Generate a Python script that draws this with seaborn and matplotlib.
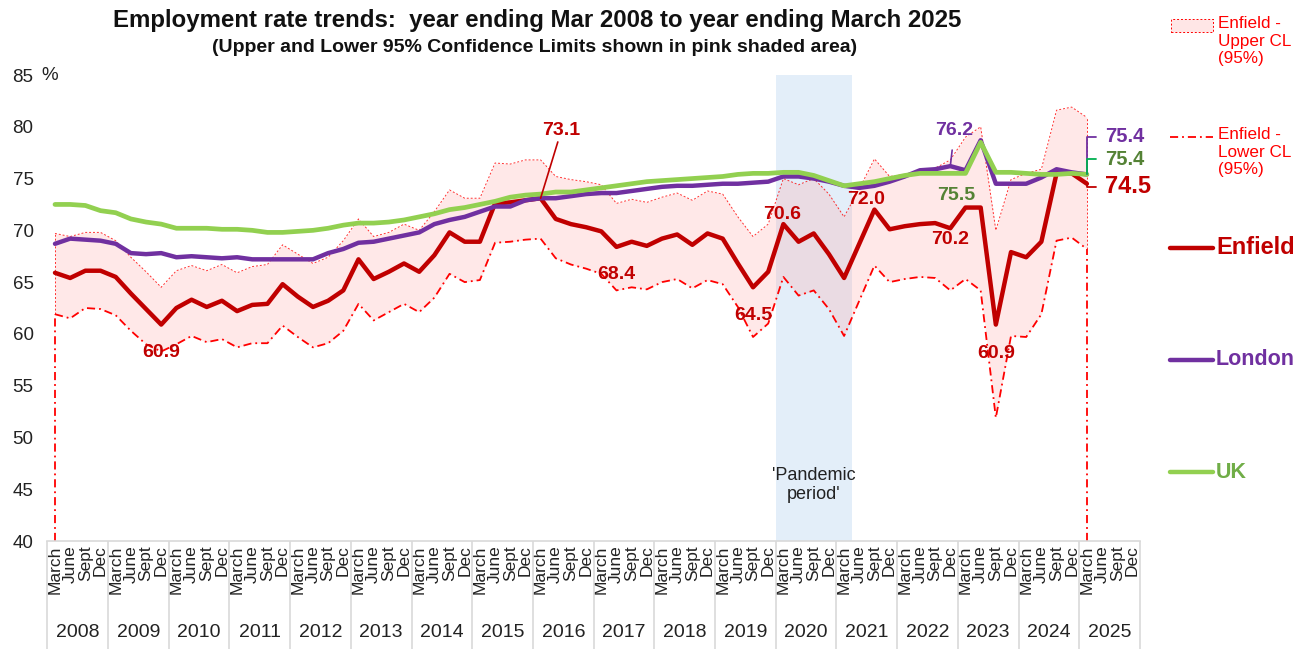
import matplotlib
matplotlib.use("Agg")
import matplotlib.pyplot as plt
from matplotlib.lines import Line2D
from matplotlib.patches import Rectangle
import seaborn as sns
import pandas as pd

# quarterly data, year ending March 2008 .. year ending March 2025
years = list(range(2008, 2026))
months = ["March", "June", "Sept", "Dec"]

enfield = [65.9, 65.4, 66.1, 66.1, 65.5, 63.9, 62.4, 60.9, 62.5, 63.3, 62.6, 63.2,
           62.2, 62.8, 62.9, 64.8, 63.6, 62.6, 63.2, 64.2, 67.2, 65.3, 66.0, 66.8,
           66.0, 67.6, 69.8, 68.9, 68.9, 72.6, 72.7, 72.9, 73.1, 71.1, 70.6, 70.3,
           69.9, 68.4, 68.9, 68.5, 69.2, 69.6, 68.6, 69.7, 69.2, 66.8, 64.5, 66.0,
           70.6, 68.9, 69.7, 67.7, 65.4, 68.7, 72.0, 70.1, 70.4, 70.6, 70.7, 70.2,
           72.2, 72.2, 60.9, 67.9, 67.4, 68.9, 75.5, 75.5, 74.5]
upper_cl = [69.7, 69.4, 69.8, 69.8, 69.0, 67.4, 66.0, 64.5, 66.1, 66.6, 66.1, 66.7,
            65.9, 66.5, 66.7, 68.6, 67.7, 66.8, 67.4, 69.0, 71.1, 69.4, 69.8, 70.6,
            70.0, 71.8, 73.9, 73.1, 73.1, 76.5, 76.4, 76.8, 76.8, 75.2, 74.9, 74.7,
            74.4, 72.6, 73.0, 72.7, 73.2, 73.6, 72.9, 73.8, 73.5, 71.3, 69.4, 70.6,
            75.0, 74.4, 75.0, 73.5, 71.3, 74.0, 76.9, 75.2, 75.4, 75.7, 76.0, 76.8,
            79.0, 80.0, 70.0, 74.9, 75.5, 75.9, 81.6, 81.9, 80.9]
lower_cl = [61.9, 61.5, 62.5, 62.4, 61.8, 60.3, 59.0, 58.3, 59.0, 59.8, 59.2, 59.5,
            58.7, 59.1, 59.1, 60.8, 59.7, 58.7, 59.1, 60.3, 62.9, 61.3, 62.1, 62.9,
            62.1, 63.5, 65.8, 65.0, 65.2, 68.8, 68.9, 69.1, 69.2, 67.3, 66.7, 66.3,
            65.8, 64.2, 64.5, 64.3, 65.0, 65.3, 64.4, 65.2, 64.8, 62.6, 59.7, 61.0,
            65.5, 63.7, 64.2, 62.4, 59.8, 63.2, 66.6, 65.0, 65.3, 65.5, 65.4, 64.2,
            65.3, 64.2, 51.9, 59.8, 59.7, 61.9, 69.0, 69.3, 68.2]
london = [68.7, 69.2, 69.1, 69.0, 68.7, 67.8, 67.7, 67.8, 67.4, 67.5, 67.4, 67.3,
          67.4, 67.2, 67.2, 67.2, 67.2, 67.2, 67.8, 68.2, 68.8, 68.9, 69.2, 69.5,
          69.8, 70.6, 71.0, 71.3, 71.8, 72.3, 72.3, 72.9, 73.1, 73.1, 73.3, 73.5,
          73.6, 73.6, 73.8, 74.0, 74.2, 74.3, 74.3, 74.4, 74.5, 74.5, 74.6, 74.7,
          75.2, 75.2, 75.0, 74.7, 74.3, 74.1, 74.3, 74.7, 75.2, 75.8, 75.9, 76.2,
          75.8, 78.7, 74.5, 74.5, 74.5, 75.1, 75.9, 75.6, 75.4]
uk = [72.5, 72.5, 72.4, 71.9, 71.7, 71.1, 70.8, 70.6, 70.2, 70.2, 70.2, 70.1,
      70.1, 70.0, 69.8, 69.8, 69.9, 70.0, 70.2, 70.5, 70.7, 70.7, 70.8, 71.0,
      71.3, 71.6, 72.0, 72.2, 72.5, 72.8, 73.2, 73.4, 73.5, 73.7, 73.7, 73.9,
      74.1, 74.3, 74.5, 74.7, 74.8, 74.9, 75.0, 75.1, 75.2, 75.4, 75.5, 75.5,
      75.6, 75.6, 75.3, 74.8, 74.3, 74.5, 74.7, 75.0, 75.3, 75.5, 75.5, 75.5,
      75.5, 78.5, 75.6, 75.6, 75.5, 75.4, 75.4, 75.5, 75.4]

# points that carry a data label
enfield_labels = [7, 32, 37, 46, 48, 54, 59, 62]
pandemic = (47.5, 52.5)

RED = "#C00000"
PURPLE = "#7030A0"
GREEN = "#92D050"
CL_RED = "#FF0000"

sns.set_style("white")
plt.rcParams["font.family"] = ["Liberation Sans", "DejaVu Sans"]

W, H = 1297, 649
def fx(px):
    return px / W
def fy(py):
    return 1 - py / H

n = len(enfield)
df = pd.DataFrame({"q": range(n), "Enfield": enfield, "London": london, "UK": uk,
                   "upper": upper_cl, "lower": lower_cl})

fig = plt.figure(figsize=(W / 100, H / 100), dpi=100)
ax = fig.add_axes([fx(47.4), fy(541), (1140 - 47.4) / W, 466 / H])

ax.axvspan(*pandemic, color="#E3EEF9", lw=0, zorder=0.5)
ax.fill_between(df["q"], df["lower"], df["upper"], color=(1, 0.68, 0.68),
                alpha=0.28, lw=0, zorder=1)

dashdot = (0, (4.5, 2.2, 1, 2.2))
dotted = (0, (2, 2))
sns.lineplot(data=df, x="q", y="upper", ax=ax, color=CL_RED, lw=0.7,
             linestyle=dotted, zorder=2, alpha=0.8)
sns.lineplot(data=df, x="q", y="lower", ax=ax, color=CL_RED, lw=1.3,
             linestyle=dashdot, zorder=2)
# area edges at both ends
ends = [0, n - 1]
ax.vlines(ends, 40, [lower_cl[i] for i in ends], color=CL_RED, lw=1.3,
          linestyle=dashdot, zorder=2)
ax.vlines(ends, [lower_cl[i] for i in ends], [upper_cl[i] for i in ends],
          color=CL_RED, lw=0.7, linestyle=dotted, zorder=2, alpha=0.8)

sns.lineplot(data=df, x="q", y="Enfield", ax=ax, color=RED, lw=3.2, zorder=3)
sns.lineplot(data=df, x="q", y="London", ax=ax, color=PURPLE, lw=3.2, zorder=4)
sns.lineplot(data=df, x="q", y="UK", ax=ax, color=GREEN, lw=3.4, zorder=5)

ax.set_xlim(-0.5, 71.5)
ax.set_ylim(40, 85)
ax.set_xlabel("")
ax.set_ylabel("")
ax.set_yticks(range(40, 86, 5))
ax.tick_params(axis="y", length=0, pad=10, labelsize=13.5, labelcolor="#222222")
ax.set_xticks(range(len(years) * 4))
ax.set_xticklabels(months * len(years), rotation=90, fontsize=12.5, color="#222222")
ax.tick_params(axis="x", length=0, pad=3)
for s in ["left", "right", "top"]:
    ax.spines[s].set_visible(False)
ax.spines["bottom"].set_color("#D9D9D9")
ax.spines["bottom"].set_linewidth(1.2)

# year level of the axis
xt = ax.get_xaxis_transform()
ax.vlines([4 * k - 0.5 for k in range(len(years) + 1)], 0, -0.235, transform=xt,
          color="#D9D9D9", lw=1.2, clip_on=False)
for k, yr in enumerate(years):
    ax.text(4 * k + 1.5, -0.197, str(yr), transform=xt, ha="center", va="center",
            fontsize=14, color="#222222")

ax.annotate("%", xy=(-0.5, 85), xytext=(-4, 0), textcoords="offset points",
            ha="left", va="center", fontsize=13.5, color="#222222", annotation_clip=False)

ax.text(sum(pandemic) / 2, 45.4, "'Pandemic\nperiod'", ha="center", va="center",
        fontsize=13, color="#222222", linespacing=1.15, zorder=6)

# Enfield data labels
offsets = {7: (0, -20), 32: (15, 49), 37: (0, -20), 46: (0, -20), 48: (-1, 7),
           54: (-6, 7), 59: (0, -8), 62: (0, -21)}
for i in enfield_labels:
    dx, dy = offsets[i]
    arrow = dict(arrowstyle="-", color=RED, lw=1.2, shrinkA=0, shrinkB=0) if i == 32 else None
    ax.annotate(f"{enfield[i]:.1f}", xy=(i, enfield[i]), xytext=(dx, dy),
                textcoords="offset points", ha="center", va="center",
                fontsize=14, fontweight="bold", color=RED, zorder=7,
                arrowprops=arrow)

ax.annotate(f"{london[59]:.1f}", xy=(59, london[59]), xytext=(3, 26),
            textcoords="offset points", ha="center", va="center", fontsize=14,
            fontweight="bold", color=PURPLE, zorder=7,
            arrowprops=dict(arrowstyle="-", color=PURPLE, lw=1.2, shrinkA=6, shrinkB=1))
ax.annotate(f"{uk[59]:.1f}", xy=(59, uk[59]), xytext=(4, -16),
            textcoords="offset points", ha="center", va="center", fontsize=14,
            fontweight="bold", color="#548235", zorder=7)

# end-of-series labels
last = n - 1
ends_lab = [(london[last], PURPLE, PURPLE, 27, 14.5),
            (uk[last], "#548235", "#00B050", 11, 14.5),
            (enfield[last], RED, RED, -2, 17)]
for val, tc, lc, dy, fs in ends_lab:
    ax.annotate(f"{val:.1f}", xy=(last, val), xytext=(13, dy),
                textcoords="offset points", ha="left", va="center", fontsize=fs,
                fontweight="bold", color=tc, zorder=7, annotation_clip=False,
                arrowprops=dict(arrowstyle="-", color=lc, lw=1.3, shrinkA=4, shrinkB=0,
                                relpos=(0, 0.5),
                                connectionstyle="angle,angleA=0,angleB=90,rad=0"))

# titles
fig.text(fx(537), fy(21), "Employment rate trends:  year ending Mar 2008 to year ending March 2025",
         ha="center", va="center", fontsize=17.3, fontweight="bold", color="#111111")
fig.text(fx(535), fy(48), "(Upper and Lower 95% Confidence Limits shown in pink shaded area)",
         ha="center", va="center", fontsize=14, fontweight="bold", color="#111111")

# legend at the right
fig.add_artist(Rectangle((fx(1171), fy(32)), fx(42), 13 / H, transform=fig.transFigure,
                         facecolor="#FFE6E6", edgecolor=CL_RED, lw=0.7, linestyle=dotted))
fig.text(fx(1218), fy(16), "Enfield -\nUpper CL\n(95%)", ha="left", va="top",
         fontsize=12.3, color=CL_RED, linespacing=1.22)
fig.add_artist(Line2D([fx(1170), fx(1213)], [fy(137)] * 2, transform=fig.transFigure,
                      color=CL_RED, lw=1.3, linestyle=dashdot))
fig.text(fx(1218), fy(127), "Enfield -\nLower CL\n(95%)", ha="left", va="top",
         fontsize=12.3, color=CL_RED, linespacing=1.22)
for py, col, txt, tcol, fs in [(248, RED, "Enfield", RED, 17),
                               (360, PURPLE, "London", PURPLE, 15.5),
                               (472, GREEN, "UK", "#70AD47", 15.5)]:
    fig.add_artist(Line2D([fx(1170), fx(1213)], [fy(py)] * 2, transform=fig.transFigure,
                          color=col, lw=3.2))
    fig.text(fx(1216), fy(py), txt, ha="left", va="center", fontsize=fs,
             fontweight="bold", color=tcol)

fig.savefig("out.png", dpi=100)
